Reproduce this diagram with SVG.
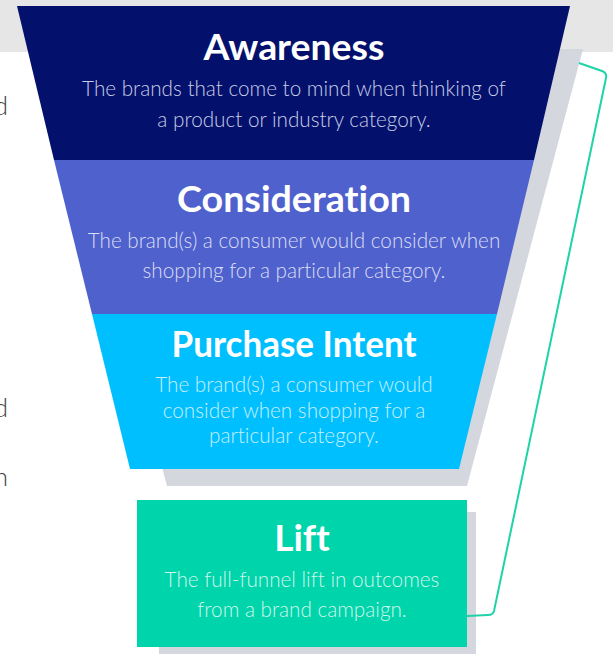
<svg xmlns="http://www.w3.org/2000/svg" width="613" height="654" viewBox="0 0 613 654">
<style>
text{font-variant-ligatures:none;font-family:Lato,"Open Sans","Liberation Sans",sans-serif}
.title{font-weight:700;font-size:37px;fill:#ffffff;text-anchor:middle}
.desc{font-weight:300;font-size:20.7px;text-anchor:middle}
.side{font-weight:300;font-size:26px;fill:#444444;text-anchor:end}
.shadow{fill:#d4d8de}
.conn{fill:none;stroke:#1fd3a8;stroke-width:2;stroke-linejoin:round}
</style>
<rect x="0" y="0" width="613" height="52" fill="#e6e6e6"/>
<g id="side-text">
<text class="side" x="8" y="115">d</text>
<text class="side" x="8" y="417">d</text>
<text class="side" x="8" y="486">n</text>
</g>
<polygon class="shadow" points="51,49 583,49 467,486 167,486"/>
<rect class="shadow" x="159" y="512" width="317" height="150"/>
<g id="awareness">
<polygon points="17,6 570,6 534,160 54,160" fill="#03116c"/>
<text class="title" x="294" y="60" textLength="181" lengthAdjust="spacingAndGlyphs">Awareness</text>
<text class="desc" x="294" y="96" fill="#c9cce6">The brands that come to mind when thinking of</text>
<text class="desc" x="294" y="127" fill="#c9cce6">a product or industry category.</text>
</g>
<g id="consideration">
<polygon points="54,160 534,160 497,314 92,314" fill="#4f61cc"/>
<text class="title" x="294" y="212" textLength="234" lengthAdjust="spacingAndGlyphs">Consideration</text>
<text class="desc" x="294" y="248" fill="#dadef5">The brand(s) a consumer would consider when</text>
<text class="desc" x="294" y="278" fill="#dadef5">shopping for a particular category.</text>
</g>
<g id="purchase-intent">
<polygon points="92,314 497,314 459,469 130,469" fill="#00bfff"/>
<text class="title" x="294" y="357" textLength="245" lengthAdjust="spacingAndGlyphs">Purchase Intent</text>
<text class="desc" x="294" y="392" fill="#c6effe">The brand(s) a consumer would</text>
<text class="desc" x="294" y="418" fill="#c6effe">consider when shopping for a</text>
<text class="desc" x="294" y="443" fill="#c6effe">particular category.</text>
</g>
<g id="lift">
<rect x="137" y="500" width="330" height="147" fill="#00d4aa"/>
<text class="title" x="302" y="551">Lift</text>
<text class="desc" x="302" y="587" fill="#cff6ec">The full-funnel lift in outcomes</text>
<text class="desc" x="302" y="617" fill="#cff6ec">from a brand campaign.</text>
</g>
<g id="connectors">
<path class="conn" d="M579,63 L602,71 Q607,73 606,78 L494,611 Q493,615 488,615 L467,616"/>
</g>
</svg>
